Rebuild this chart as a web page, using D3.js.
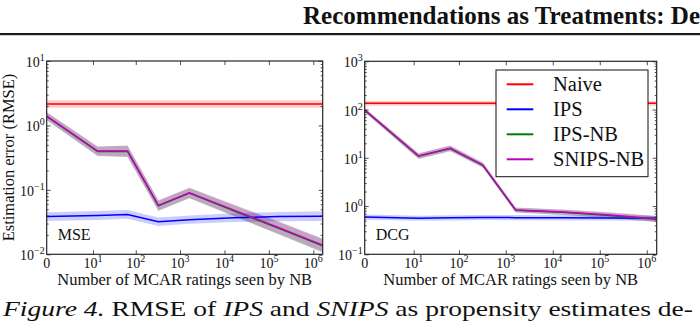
<!DOCTYPE html>
<html>
<head>
<meta charset="utf-8">
<script src="https://cdn.jsdelivr.net/npm/d3@7"></script>
<style>
  body { margin: 0; background: #fff; }
  svg { display: block; }
  text { font-family: "Liberation Serif", "Times New Roman", serif; fill: #111; }
</style>
</head>
<body>
<div id="chart-area"></div>
<script>

let width = 700,
    height = 322;

// number of MCAR ratings seen by the Naive Bayes propensity model
const mcarCounts = [0, 13, 65, 325, 1625, 16250, 162500, 1625000];
const xMax = 1625000;
const xTickExps = [1, 2, 3, 4, 5, 6];

const seriesNames = ["Naive", "IPS", "IPS-NB", "SNIPS-NB"];

// MSE panel: mean RMSE and spread factor of the band (value / f .. value * f)
const mseNaive   = [2.15, 2.15, 2.15, 2.15, 2.15, 2.15, 2.15, 2.15];
const mseIps     = [0.0385, 0.040, 0.0415, 0.032, 0.0345, 0.037, 0.0385, 0.039];
const mseIpsNb   = [1.38, 0.395, 0.395, 0.0565, 0.089, 0.0475, 0.0255, 0.0135];
const mseSnipsNb = [1.40, 0.40, 0.40, 0.0575, 0.090, 0.0485, 0.026, 0.0139];
const mseNaiveErr = [1.14, 1.14, 1.14, 1.14, 1.14, 1.14, 1.14, 1.14];
const mseIpsErr   = [1.17, 1.17, 1.17, 1.16, 1.16, 1.17, 1.18, 1.19];
const mseNbErr    = [1.15, 1.18, 1.22, 1.20, 1.20, 1.22, 1.25, 1.27];
const mseYExps = [-2, -1, 0, 1];

// DCG panel
const dcgNaive   = [135, 135, 135, 135, 135, 135, 135, 135];
const dcgIps     = [0.59, 0.56, 0.57, 0.58, 0.575, 0.57, 0.565, 0.56];
const dcgIpsNb   = [97, 10.8, 15.5, 7.0, 0.82, 0.74, 0.64, 0.535];
const dcgSnipsNb = [98, 10.9, 15.7, 7.1, 0.83, 0.75, 0.65, 0.54];
const dcgNaiveErr = [1.12, 1.12, 1.12, 1.12, 1.12, 1.12, 1.12, 1.12];
const dcgIpsErr   = [1.13, 1.13, 1.13, 1.13, 1.13, 1.13, 1.13, 1.13];
const dcgNbErr    = [1.10, 1.14, 1.14, 1.12, 1.12, 1.13, 1.14, 1.15];
const dcgYExps = [-1, 0, 1, 2, 3];

const colors = {"Naive": "#ff0000", "IPS": "#0000ff", "IPS-NB": "#008000", "SNIPS-NB": "#bf00bf"};
const fills  = {"Naive": "rgba(255,0,0,0.2)", "IPS": "rgba(0,0,255,0.2)",
                "IPS-NB": "rgba(0,128,0,0.25)", "SNIPS-NB": "rgba(191,0,191,0.25)"};

let svg = d3.select("#chart-area").append("svg")
  .attr("width", width)
  .attr("height", height);

svg.append("rect").attr("width", width).attr("height", height).attr("fill", "#fff");

// running header of the page
svg.append("text")
  .attr("x", 303).attr("y", 24)
  .attr("font-size", 25).attr("font-weight", "bold")
  .attr("textLength", 397).attr("lengthAdjust", "spacingAndGlyphs")
  .text("Recommendations as Treatments: De");
svg.append("rect").attr("x", 0).attr("y", 33).attr("width", width).attr("height", 2.2).attr("fill", "#1a1a1a");

const sup = (sel, base, exp, size) => {
  sel.append("tspan").text(base);
  sel.append("tspan").attr("dy", -6).attr("font-size", size).text(exp);
};

function panel(opt) {
  let x = d3.scaleSymlog().constant(1).domain([0, xMax]).range([opt.x0, opt.x1]);
  let y = d3.scaleLog().domain(opt.yDomain).range([opt.y1, opt.y0]);

  let g = svg.append("g");
  let clipId = "clip-" + opt.id;
  g.append("clipPath").attr("id", clipId)
    .append("rect").attr("x", opt.x0).attr("y", opt.y0)
    .attr("width", opt.x1 - opt.x0).attr("height", opt.y1 - opt.y0);

  let plot = g.append("g").attr("clip-path", `url(#${clipId})`);

  let series = seriesNames.map((name, i) => ({
    name: name,
    points: mcarCounts.map((c, j) => ({x: c, v: opt.values[i][j], f: opt.errs[i][j]}))
  }));

  let area = d3.area()
    .x(d => x(d.x))
    .y0(d => y(d.v / d.f))
    .y1(d => y(d.v * d.f));
  let line = d3.line()
    .x(d => x(d.x))
    .y(d => y(d.v));

  series.forEach(s => {
    plot.append("path").attr("d", area(s.points)).attr("fill", fills[s.name]);
  });
  series.forEach(s => {
    plot.append("path").attr("d", line(s.points))
      .attr("fill", "none").attr("stroke", colors[s.name]).attr("stroke-width", 1.5);
  });

  // ticks point inward on all four sides
  let xMajor = xTickExps.map(e => Math.pow(10, e));
  let yMajor = opt.yExps.map(e => Math.pow(10, e));
  let yMinor = [];
  opt.yExps.slice(0, -1).forEach(e => {
    for (let k = 2; k <= 9; k++) yMinor.push(k * Math.pow(10, e));
  });

  const tickAxis = (axis, values, size, tx, ty) => {
    let a = g.append("g").attr("transform", `translate(${tx},${ty})`)
      .call(axis.tickValues(values).tickSize(-size).tickFormat(""));
    a.select(".domain").remove();
    a.selectAll(".tick line").attr("stroke", "#222").attr("stroke-width", 0.8);
  };
  tickAxis(d3.axisBottom(x), xMajor, 4, 0, opt.y1);
  tickAxis(d3.axisTop(x), xMajor, 4, 0, opt.y0);
  tickAxis(d3.axisLeft(y), yMajor, 4, opt.x0, 0);
  tickAxis(d3.axisLeft(y), yMinor, 2, opt.x0, 0);
  tickAxis(d3.axisRight(y), yMajor, 4, opt.x1, 0);
  tickAxis(d3.axisRight(y), yMinor, 2, opt.x1, 0);

  g.append("rect")
    .attr("x", opt.x0).attr("y", opt.y0)
    .attr("width", opt.x1 - opt.x0).attr("height", opt.y1 - opt.y0)
    .attr("fill", "none").attr("stroke", "#262626").attr("stroke-width", 1.2);

  // tick labels
  g.append("text").attr("x", x(0)).attr("y", opt.y1 + 14)
    .attr("text-anchor", "middle").attr("font-size", 14).text("0");
  xTickExps.forEach(e => {
    let t = g.append("text").attr("x", x(Math.pow(10, e))).attr("y", opt.y1 + 14)
      .attr("text-anchor", "middle").attr("font-size", 14);
    sup(t, "10", String(e), 10);
  });
  opt.yExps.forEach(e => {
    let t = g.append("text").attr("x", opt.x0 - 2).attr("y", y(Math.pow(10, e)) + 6)
      .attr("text-anchor", "end").attr("font-size", 14);
    sup(t, "10", String(e).replace("-", "\u2212"), 10);
  });

  g.append("text")
    .attr("x", (opt.x0 + opt.x1) / 2).attr("y", 285)
    .attr("text-anchor", "middle").attr("font-size", 16.5)
    .text("Number of MCAR ratings seen by NB");

  g.append("text").attr("x", opt.x0 + 11).attr("y", 240)
    .attr("font-size", 16).text(opt.tag);

  return {x: x, y: y, g: g};
}

panel({
  id: "mse", tag: "MSE",
  x0: 46.7, x1: 322.7, y0: 61, y1: 254.3,
  yDomain: [1e-2, 1e1], yExps: mseYExps,
  values: [mseNaive, mseIps, mseIpsNb, mseSnipsNb],
  errs: [mseNaiveErr, mseIpsErr, mseNbErr, mseNbErr]
});

let right = panel({
  id: "dcg", tag: "DCG",
  x0: 364.7, x1: 656.7, y0: 61.3, y1: 254.3,
  yDomain: [1e-1, 1e3], yExps: dcgYExps,
  values: [dcgNaive, dcgIps, dcgIpsNb, dcgSnipsNb],
  errs: [dcgNaiveErr, dcgIpsErr, dcgNbErr, dcgNbErr]
});

svg.append("text")
  .attr("transform", "translate(13.5,157.5) rotate(-90)")
  .attr("text-anchor", "middle").attr("font-size", 16.5)
  .text("Estimation error (RMSE)");

// legend inside the DCG panel
let legend = right.g.append("g");
legend.append("rect")
  .attr("x", 496).attr("y", 70).attr("width", 152).attr("height", 106.7)
  .attr("fill", "#fff").attr("stroke", "#111").attr("stroke-width", 1);
seriesNames.forEach((name, i) => {
  let ly = 84.3 + i * 25;
  legend.append("line")
    .attr("x1", 506.7).attr("x2", 533.3).attr("y1", ly).attr("y2", ly)
    .attr("stroke", colors[name]).attr("stroke-width", 2);
  legend.append("text")
    .attr("x", 553).attr("y", ly + 7).attr("font-size", 20.5).text(name);
});

// figure caption
let cap = svg.append("text")
  .attr("x", 3).attr("y", 316).attr("font-size", 22)
  .attr("textLength", 690).attr("lengthAdjust", "spacingAndGlyphs");
cap.append("tspan").attr("font-style", "italic").text("Figure 4.");
cap.append("tspan").text(" RMSE of ");
cap.append("tspan").attr("font-style", "italic").text("IPS");
cap.append("tspan").text(" and ");
cap.append("tspan").attr("font-style", "italic").text("SNIPS");
cap.append("tspan").text(" as propensity estimates de-");

</script>
</body>
</html>
